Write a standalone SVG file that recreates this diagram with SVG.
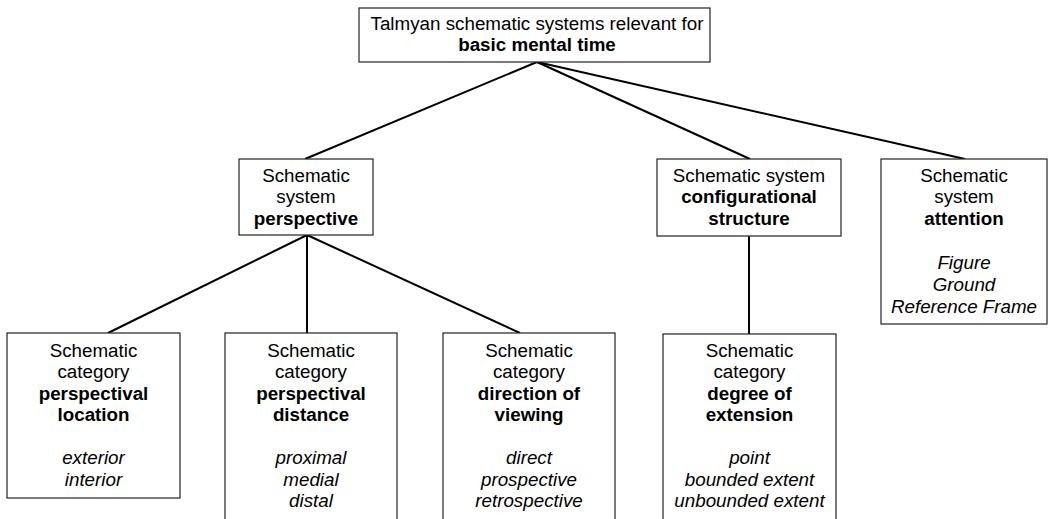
<svg xmlns="http://www.w3.org/2000/svg" width="1058" height="519" viewBox="0 0 1058 519">
<style>
.box{fill:#fff;stroke:#222;stroke-width:1.2}
text{font-family:"Liberation Sans",Arial,sans-serif;font-size:18.8px;fill:#000;text-anchor:middle}
.b{font-weight:bold}
.i{font-style:italic}
.c line{stroke:#000;stroke-width:2}
</style>
<rect width="1058" height="519" fill="#fff"/>
<g class="c" id="connectors">
<line x1="537" y1="62" x2="305" y2="159"/>
<line x1="537" y1="62" x2="750" y2="159"/>
<line x1="537" y1="62" x2="965" y2="159"/>
<line x1="307" y1="235" x2="108" y2="333"/>
<line x1="307" y1="235" x2="307" y2="333"/>
<line x1="307" y1="235" x2="520" y2="333"/>
<line x1="749" y1="236" x2="749" y2="334"/>
</g>
<g id="root">
<rect class="box" x="359" y="8" width="351" height="54"/>
<text x="537" y="30">Talmyan schematic systems relevant for</text>
<text x="537" y="51" class="b">basic mental time</text>
</g>
<g id="perspective">
<rect class="box" x="239" y="159" width="134" height="76"/>
<text x="306" y="182">Schematic</text>
<text x="306" y="203">system</text>
<text x="306" y="225" class="b">perspective</text>
</g>
<g id="configurational">
<rect class="box" x="657" y="159" width="184" height="77"/>
<text x="749" y="182">Schematic system</text>
<text x="749" y="203" class="b">configurational</text>
<text x="749" y="225" class="b">structure</text>
</g>
<g id="attention">
<rect class="box" x="881" y="159" width="166" height="165"/>
<text x="964" y="182">Schematic</text>
<text x="964" y="203">system</text>
<text x="964" y="225" class="b">attention</text>
<text x="964" y="269" class="i">Figure</text>
<text x="964" y="291" class="i">Ground</text>
<text x="964" y="313" class="i">Reference Frame</text>
</g>
<g id="location">
<rect class="box" x="7" y="333" width="173" height="165"/>
<text x="93.5" y="357">Schematic</text>
<text x="93.5" y="378">category</text>
<text x="93.5" y="400" class="b">perspectival</text>
<text x="93.5" y="421" class="b">location</text>
<text x="93.5" y="464" class="i">exterior</text>
<text x="93.5" y="486" class="i">interior</text>
</g>
<g id="distance">
<rect class="box" x="225" y="333" width="172" height="200"/>
<text x="311" y="357">Schematic</text>
<text x="311" y="378">category</text>
<text x="311" y="400" class="b">perspectival</text>
<text x="311" y="421" class="b">distance</text>
<text x="311" y="464" class="i">proximal</text>
<text x="311" y="486" class="i">medial</text>
<text x="311" y="507" class="i">distal</text>
</g>
<g id="viewing">
<rect class="box" x="443" y="333" width="172" height="200"/>
<text x="529" y="357">Schematic</text>
<text x="529" y="378">category</text>
<text x="529" y="400" class="b">direction of</text>
<text x="529" y="421" class="b">viewing</text>
<text x="529" y="464" class="i">direct</text>
<text x="529" y="486" class="i">prospective</text>
<text x="529" y="507" class="i">retrospective</text>
</g>
<g id="extension">
<rect class="box" x="663" y="334" width="173" height="200"/>
<text x="749.5" y="357">Schematic</text>
<text x="749.5" y="378">category</text>
<text x="749.5" y="400" class="b">degree of</text>
<text x="749.5" y="421" class="b">extension</text>
<text x="749.5" y="464" class="i">point</text>
<text x="749.5" y="486" class="i">bounded extent</text>
<text x="749.5" y="507" class="i">unbounded extent</text>
</g>
</svg>
